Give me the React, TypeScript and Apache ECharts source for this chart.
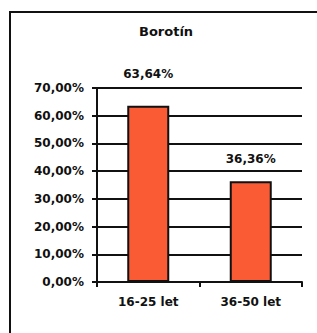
import React, { useEffect, useRef } from "react";
import * as echarts from "echarts";

const titleText = "Borotín";
const categories = ["16-25 let", "36-50 let"];
const values = [63.64, 36.36];
const yTicks = { min: 0, max: 70, interval: 10 };

const FONT = "'DejaVu Sans', Arial, sans-serif";
const fmt = (v: number) => v.toFixed(2).replace(".", ",") + "%";

export default function App() {
  const ref = useRef<HTMLDivElement>(null);
  useEffect(() => {
    if (!ref.current) return;
    const chart = echarts.init(ref.current, undefined, { renderer: "svg" });
    const labelDistances = [26, 16];
    chart.setOption({
      animation: false,
      backgroundColor: "#ffffff",
      title: {
        text: titleText,
        left: 139,
        top: 25,
        padding: 0,
        textStyle: { fontFamily: FONT, fontSize: 13, fontWeight: "bold", color: "#111" },
      },
      graphic: [
        {
          type: "polyline",
          shape: { points: [[10, 340], [10, 12], [320, 12]] },
          style: { stroke: "#111", lineWidth: 2, fill: "none" },
        },
      ],
      grid: { left: 97, right: 15, top: 88, bottom: 51 },
      xAxis: {
        type: "category",
        data: categories,
        axisLine: { show: true, lineStyle: { color: "#111", width: 2 } },
        axisTick: { show: true, length: 5, lineStyle: { color: "#111", width: 2 } },
        axisLabel: { margin: 14, fontFamily: FONT, fontSize: 12, fontWeight: "bold", color: "#111" },
      },
      yAxis: {
        type: "value",
        min: yTicks.min,
        max: yTicks.max,
        interval: yTicks.interval,
        axisLine: { show: true, lineStyle: { color: "#111", width: 2 } },
        axisTick: { show: true, length: 5, lineStyle: { color: "#111", width: 2 } },
        splitLine: { show: true, lineStyle: { color: "#111", width: 2 } },
        axisLabel: {
          margin: 13,
          fontFamily: FONT,
          fontSize: 12,
          fontWeight: "bold",
          color: "#111",
          formatter: (v: number) => fmt(v),
        },
      },
      series: [
        {
          type: "bar",
          barWidth: 42,
          data: values.map((v, i) => ({
            value: v,
            label: { distance: labelDistances[i] },
          })),
          itemStyle: { color: "#FA5A34", borderColor: "#111", borderWidth: 2 },
          label: {
            show: true,
            position: "top",
            fontFamily: FONT,
            fontSize: 12,
            fontWeight: "bold",
            color: "#111",
            formatter: (p: any) => fmt(p.value),
          },
        },
      ],
    });
    return () => chart.dispose();
  }, []);
  return (
    <div
      ref={ref}
      style={{ position: "fixed", left: 0, top: 0, width: 317, height: 333 }}
    />
  );
}
